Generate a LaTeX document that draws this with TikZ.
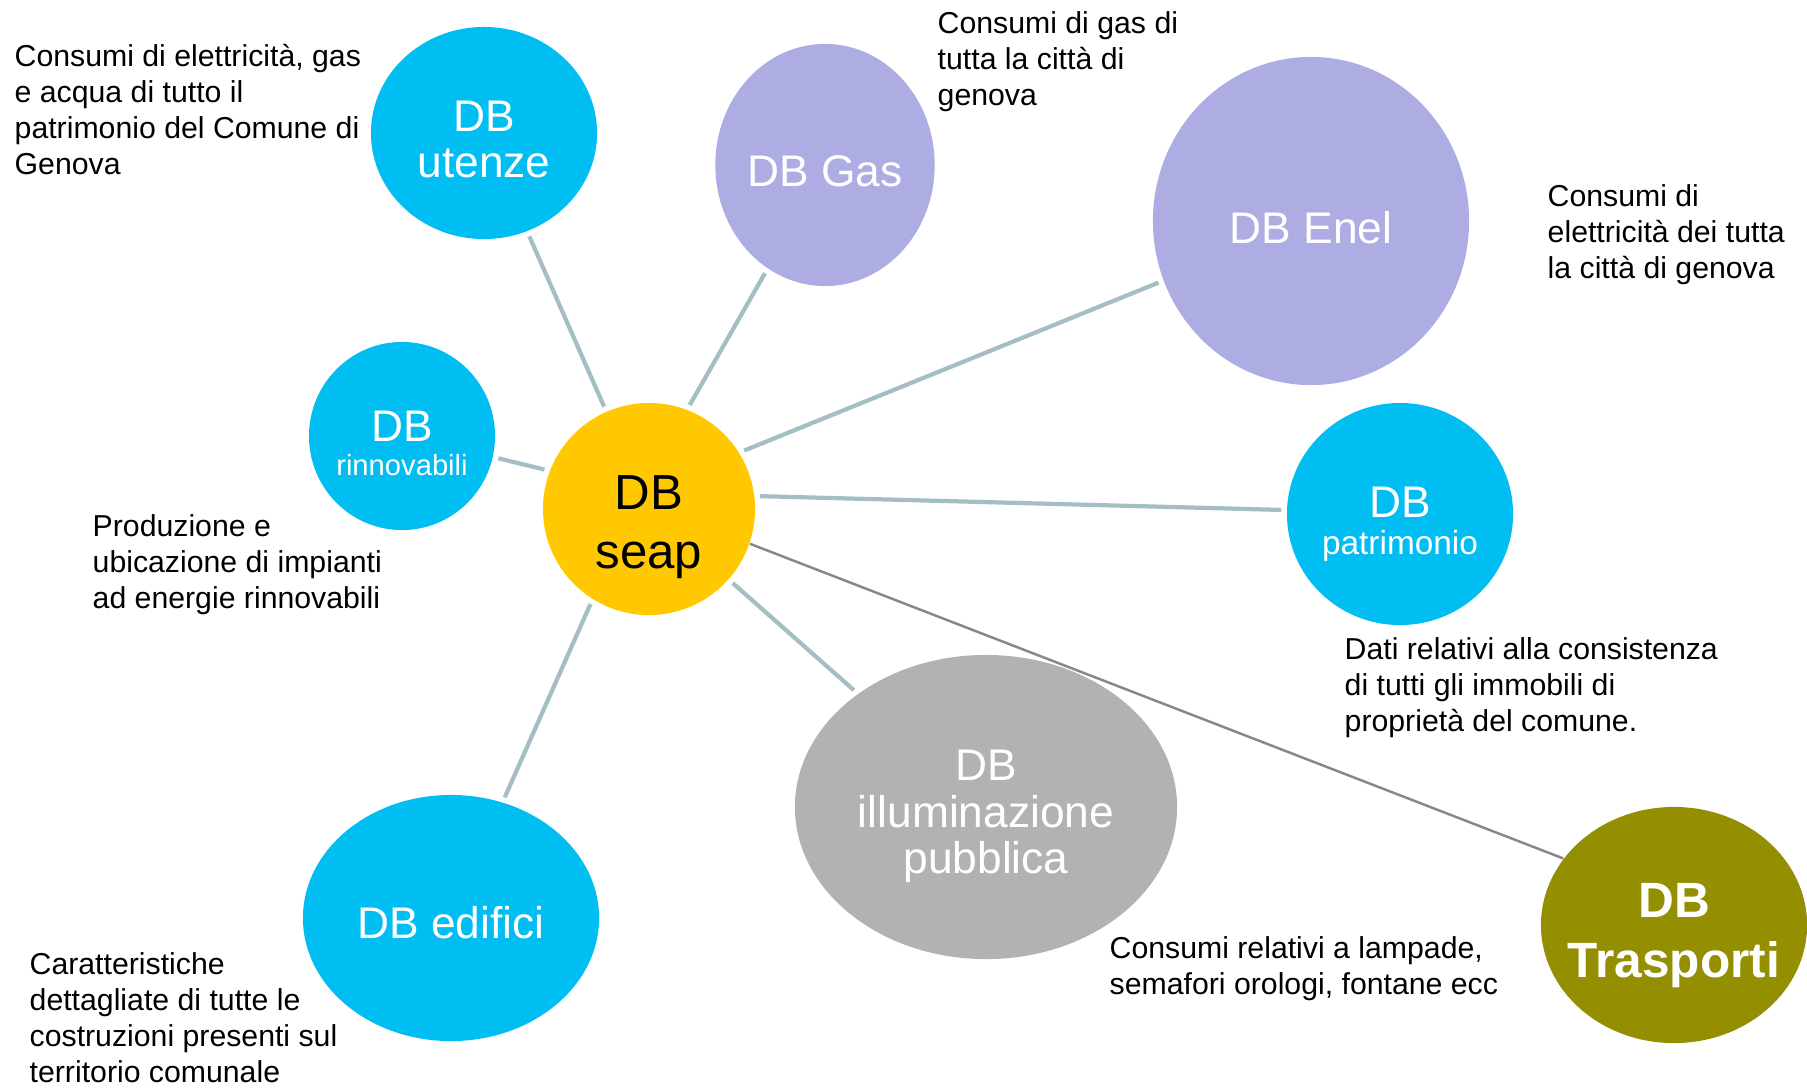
\documentclass[tikz,border=0pt]{standalone}
\usepackage{fontspec}
\setmainfont{Liberation Sans}
\usetikzlibrary{shapes.geometric}

\definecolor{dbcyan}{RGB}{0,190,242}
\definecolor{dblilac}{RGB}{173,173,228}
\definecolor{dbgrey}{RGB}{178,178,178}
\definecolor{dbolive}{RGB}{148,143,0}
\definecolor{dbyellow}{RGB}{255,200,0}
\definecolor{linkblue}{RGB}{165,190,195}
\definecolor{linkgrey}{RGB}{136,136,136}

% invisible strut that pushes a label down inside its ellipse
\newcommand{\lift}[1]{\rule{0pt}{#1}}

\begin{document}
\begin{tikzpicture}[
  x=0.01cm, y=-0.01cm,
  db/.style={ellipse,inner sep=0pt,align=center,text=white,
    font=\fontsize{12.6}{13.2}\selectfont},
  note/.style={anchor=base west,align=left,inner sep=0pt,
    font=\fontsize{8.6}{10.2}\selectfont},
  link/.style={draw=linkblue,line width=1.2pt,shorten >=0.5mm,shorten <=0.5mm},
  farlink/.style={draw=linkgrey,line width=0.7pt}
]
\useasboundingbox (0,0) rectangle (1807,1087);

% --- Databases ---
\node[db,fill=dbcyan,minimum width=2.26cm,minimum height=2.12cm] (utenze) at (484,133)
  {\lift{12.5pt}DB\\utenze};
\node[db,fill=dblilac,minimum width=2.18cm,minimum height=2.42cm] (gas) at (825,165)
  {\lift{12.5pt}DB Gas};
\node[db,fill=dblilac,minimum width=3.16cm,minimum height=3.28cm] (enel) at (1311,221)
  {\lift{12.8pt}DB Enel};
\node[db,fill=dbcyan,minimum width=1.86cm,minimum height=1.88cm] (rinnovabili) at (402,436)
  {\lift{12.7pt}DB\\[-3.6pt]{\fontsize{8.3}{9}\selectfont rinnovabili}};
\node[db,fill=dbyellow,text=black,minimum width=2.12cm,minimum height=2.12cm,
  font=\fontsize{14}{16.8}\selectfont] (seap) at (649,509) {\lift{20pt}DB\\seap};
\node[db,fill=dbcyan,minimum width=2.26cm,minimum height=2.22cm] (patrimonio) at (1400,514)
  {\lift{14.3pt}DB\\[-2.7pt]{\fontsize{9.5}{10}\selectfont patrimonio}};
\node[db,fill=dbgrey,minimum width=3.82cm,minimum height=3.04cm] (illuminazione) at (986,807)
  {\lift{14pt}DB\\illuminazione\\pubblica};
\node[db,fill=dbcyan,minimum width=2.96cm,minimum height=2.46cm] (edifici) at (451,918)
  {\lift{11.7pt}DB edifici};
\node[db,fill=dbolive,inner xsep=-8mm,minimum width=2.66cm,minimum height=2.36cm,
  font=\fontsize{14.1}{17.1}\selectfont\bfseries] (trasporti) at (1674,925)
  {\lift{15.8pt}DB\\Trasporti};

% --- Descriptions (placed on the baseline of their last line) ---
\node[note] (txtutenze) at (14,174.5) {Consumi di elettricità, gas\\e acqua di tutto il\\patrimonio del Comune di\\Genova};
\node[note] (txtgas) at (937,105.5) {Consumi di gas di\\tutta la città di\\genova};
\node[note] (txtenel) at (1547,278.5) {Consumi di\\elettricità dei tutta\\la città di genova};
\node[note] (txtrinnovabili) at (92,608.5) {Produzione e\\ubicazione di impianti\\ad energie rinnovabili};
\node[note] (txtpatrimonio) at (1344,731.5) {Dati relativi alla consistenza\\di tutti gli immobili di\\proprietà del comune.};
\node[note] (txtilluminazione) at (1109,994) {Consumi relativi a lampade,\\semafori orologi, fontane ecc};
\node[note] (txtedifici) at (29,1082.5) {Caratteristiche\\dettagliate di tutte le\\costruzioni presenti sul\\territorio comunale};

% --- Links to DB seap ---
\draw[link] (utenze) -- (seap);
\draw[link] (gas.241) -- (seap.69);
\draw[link] (enel.202) -- (seap.32);
\draw[link] (rinnovabili.-13) -- (seap.159);
\draw[link] (patrimonio.178) -- (seap.7);
\draw[link] (illuminazione) -- (seap);
\draw[link] (edifici.66) -- (seap.238);
\draw[farlink] (seap.-19) -- (trasporti.149);
\end{tikzpicture}
\end{document}
